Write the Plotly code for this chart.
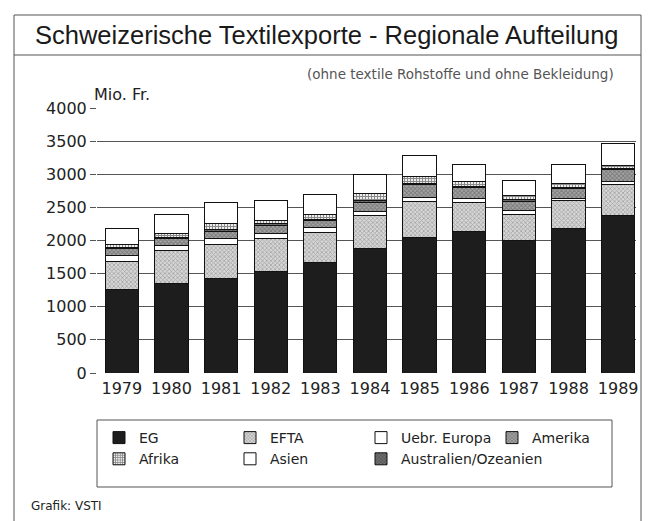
import plotly.graph_objects as go

years = ["1979", "1980", "1981", "1982", "1983", "1984", "1985", "1986", "1987", "1988", "1989"]

eg = [1253, 1354, 1430, 1535, 1665, 1884, 2049, 2130, 2007, 2175, 2370]
efta = [429, 490, 515, 490, 459, 491, 536, 440, 390, 425, 480]
uebr_europa = [86, 76, 80, 75, 66, 60, 64, 60, 51, 40, 45]
amerika = [106, 110, 111, 130, 110, 145, 195, 170, 145, 140, 170]
australien = [15, 15, 25, 20, 19, 20, 21, 20, 20, 20, 20]
afrika = [56, 67, 102, 50, 81, 109, 99, 75, 69, 65, 50]
asien = [237, 273, 313, 310, 300, 291, 315, 250, 225, 285, 335]

y_ticks = [0, 500, 1000, 1500, 2000, 2500, 3000, 3500, 4000]

W, H = 656, 521
ML, MR, MT, MB = 97, 20, 108, 148
PW = W - ML - MR
PH = H - MT - MB


def px(x):
    return (x - ML) / PW


def py(y):
    return (H - MB - y) / PH


TICKFONT = dict(family="DejaVu Sans", size=16, color="#222222")
LINE = dict(color="#111111", width=1)

series = [
    ("EG", eg, dict(color="#1d1d1d", line=LINE), 1),
    ("EFTA", efta, dict(color="#bdbdbd", line=LINE,
                        pattern=dict(shape="x", size=3, solidity=0.45, fgcolor="#707070", bgcolor="#d6d6d6")), 2),
    ("Uebr. Europa", uebr_europa, dict(color="#ffffff", line=LINE), 3),
    ("Amerika", amerika, dict(color="#8c8c8c", line=LINE,
                              pattern=dict(shape="x", size=3, solidity=0.5, fgcolor="#484848", bgcolor="#a6a6a6")), 4),
    ("Australien/Ozeanien", australien, dict(color="#555555", line=LINE,
                                             pattern=dict(shape="x", size=3, solidity=0.45, fgcolor="#2c2c2c", bgcolor="#727272")), 7),
    ("Afrika", afrika, dict(color="#777777", line=LINE,
                            pattern=dict(shape="+", size=3, solidity=0.55, fgcolor="#262626", bgcolor="#eeeeee")), 5),
    ("Asien", asien, dict(color="#ffffff", line=LINE), 6),
]

fig = go.Figure()
for name, vals, marker, rank in series:
    fig.add_trace(go.Bar(x=years, y=vals, name=name, marker=marker, legendrank=rank))

fig.update_layout(
    width=W, height=H,
    margin=dict(l=ML, r=MR, t=MT, b=MB, pad=0),
    barmode="stack",
    bargap=0.33,
    paper_bgcolor="white",
    plot_bgcolor="white",
    font=dict(family="DejaVu Sans", color="#222222"),
    showlegend=True,
    legend=dict(
        orientation="h",
        x=px(99), xanchor="left",
        y=py(422), yanchor="top",
        entrywidth=86, entrywidthmode="pixels",
        traceorder="normal",
        borderwidth=0,
        bgcolor="rgba(0,0,0,0)",
        font=dict(family="DejaVu Sans", size=14, color="#222222"),
    ),
    xaxis=dict(
        type="category",
        range=[-0.5, 10.36],
        showline=False, showgrid=False, zeroline=False,
        ticks="",
        ticklabelstandoff=4,
        tickfont=TICKFONT,
        fixedrange=True,
    ),
    yaxis=dict(
        range=[0, 4000],
        tickvals=y_ticks,
        showgrid=True, gridcolor="#555555", gridwidth=1,
        zeroline=False, showline=False,
        ticks="outside", ticklen=6, tickcolor="#555555",
        tickfont=TICKFONT,
        fixedrange=True,
    ),
    shapes=[
        dict(type="rect", xref="paper", yref="paper",
             x0=px(14), x1=px(641), y0=py(15), y1=py(540),
             line=dict(color="#555555", width=1)),
        dict(type="line", xref="paper", yref="paper",
             x0=px(14), x1=px(641), y0=py(55), y1=py(55),
             line=dict(color="#555555", width=1)),
        dict(type="rect", xref="paper", yref="paper",
             x0=px(97), x1=px(612), y0=py(420), y1=py(487),
             line=dict(color="#555555", width=1)),
    ],
    annotations=[
        dict(text="Schweizerische Textilexporte - Regionale Aufteilung",
             xref="paper", yref="paper", x=px(327), y=py(35),
             xanchor="center", yanchor="middle", showarrow=False,
             font=dict(family="Liberation Sans", size=25.5, color="#1a1a1a")),
        dict(text="(ohne textile Rohstoffe und ohne Bekleidung)",
             xref="paper", yref="paper", x=px(616), y=py(74),
             xanchor="right", yanchor="middle", showarrow=False,
             font=dict(family="DejaVu Sans", size=13.5, color="#555555")),
        dict(text="Mio. Fr.",
             xref="paper", yref="paper", x=px(92), y=py(94),
             xanchor="left", yanchor="middle", showarrow=False,
             font=dict(family="DejaVu Sans", size=16, color="#222222")),
        dict(text="Grafik: VSTI",
             xref="paper", yref="paper", x=px(29), y=py(506),
             xanchor="left", yanchor="middle", showarrow=False,
             font=dict(family="DejaVu Sans", size=12, color="#222222")),
    ],
)

fig.write_html("out.html", config={"displayModeBar": False},
               post_script="document.body.style.margin='0';")
